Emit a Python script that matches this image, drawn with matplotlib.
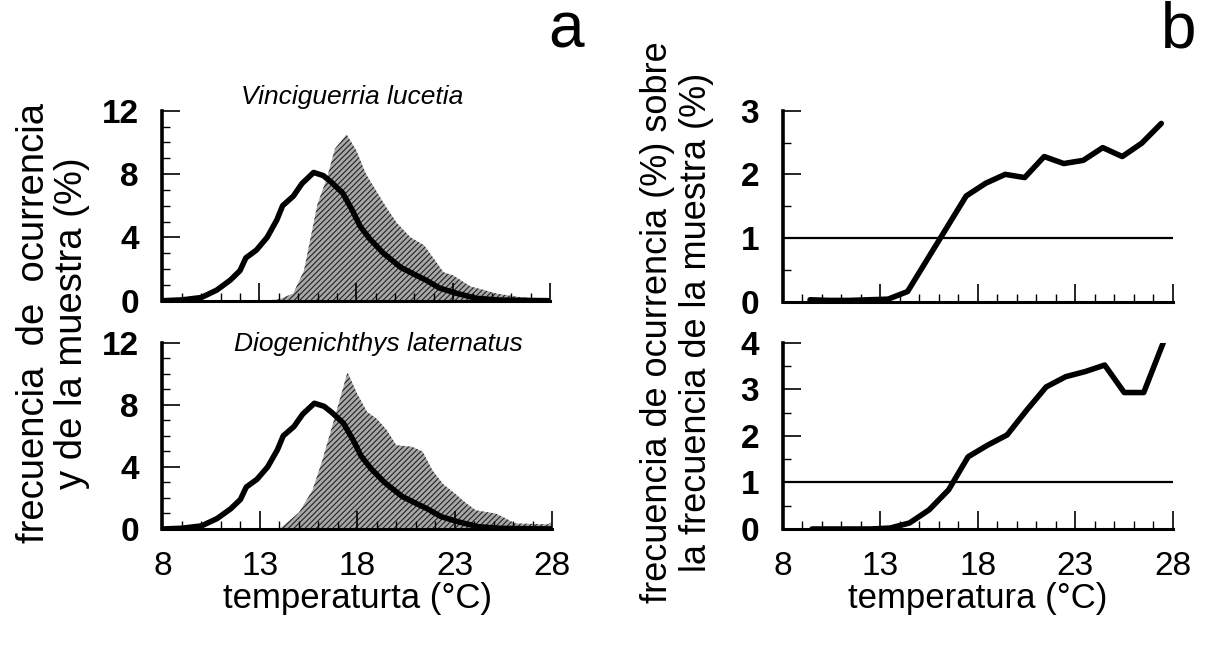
import matplotlib
matplotlib.use("Agg")
import matplotlib.pyplot as plt
from matplotlib.ticker import MultipleLocator

plt.rcParams['font.family'] = ['Liberation Sans', 'DejaVu Sans']
plt.rcParams['hatch.linewidth'] = 0.8

# ---- data ----
# sample frequency (%) vs temperature (same in both left panels)
samp_t = [8.0, 9.0, 10.0, 10.8, 11.5, 12.0, 12.3, 12.85, 13.4, 13.9, 14.2, 14.75, 15.2, 15.8,
          16.3, 16.7, 17.3, 17.8, 18.2, 18.7, 19.4, 20.3, 21.1, 21.6, 22.3, 23.2, 24.2, 25.4, 28.0]
samp_v = [0.0, 0.05, 0.2, 0.67, 1.3, 1.9, 2.7, 3.2, 4.0, 5.1, 6.0, 6.6, 7.4, 8.1,
          7.9, 7.5, 6.8, 5.7, 4.7, 3.9, 3.0, 2.1, 1.6, 1.3, 0.8, 0.46, 0.15, 0.04, 0.0]

# occurrence frequency (%) - Vinciguerria lucetia
vl_t = [13.3, 14.05, 14.75, 15.3, 16.0, 16.5, 16.9, 17.5, 18.0, 18.5, 19.55, 20.1, 20.8,
        21.5, 21.8, 22.5, 23.0, 23.9, 24.6, 25.2, 26.3, 28.0]
vl_v = [0.0, 0.1, 0.46, 1.9, 6.1, 7.8, 9.6, 10.5, 9.5, 8.0, 5.9, 4.9, 4.0,
        3.5, 3.0, 1.8, 1.6, 0.9, 0.67, 0.46, 0.25, 0.04]

# occurrence frequency (%) - Diogenichthys laternatus
dl_t = [14.0, 15.0, 15.7, 16.2, 16.8, 17.5, 18.0, 18.5, 19.0, 19.5, 20.0, 20.8, 21.35,
        21.85, 22.4, 23.0, 23.6, 24.1, 25.1, 25.6, 26.1, 27.8, 28.0]
dl_v = [0.0, 1.05, 2.5, 4.4, 7.0, 10.1, 8.7, 7.55, 7.1, 6.4, 5.4, 5.3, 5.0,
        3.8, 2.9, 2.3, 1.65, 1.2, 1.0, 0.7, 0.36, 0.3, 0.45]

# ratio occurrence / sample
vl_rt = [9.4, 10.4, 11.4, 12.4, 13.4, 14.4, 15.4, 16.4, 17.4, 18.4, 19.4, 20.4, 21.4,
         22.4, 23.4, 24.4, 25.4, 26.4, 27.4]
vl_rv = [0.03, 0.02, 0.02, 0.03, 0.04, 0.16, 0.66, 1.16, 1.66, 1.86, 2.0, 1.95, 2.28,
         2.17, 2.22, 2.42, 2.28, 2.49, 2.8]

dl_rt = [9.5, 10.5, 11.5, 12.5, 13.5, 14.5, 15.5, 16.5, 17.5, 18.5, 19.5, 20.5, 21.5,
         22.5, 23.5, 24.5, 25.5, 26.5, 27.5]
dl_rv = [0.0, 0.0, 0.0, 0.0, 0.02, 0.13, 0.41, 0.84, 1.55, 1.8, 2.02, 2.55, 3.05,
         3.27, 3.38, 3.52, 2.93, 2.93, 4.0]

xticks = [8, 13, 18, 23, 28]

fig = plt.figure(figsize=(12.14, 6.47), dpi=100)
W, H = 1214, 647

def mkax(x0, x1, ytop, ybot):
    return fig.add_axes([x0 / W, 1 - ybot / H, (x1 - x0) / W, (ybot - ytop) / H])

axA1 = mkax(162.5, 550, 110.7, 300.7)
axA2 = mkax(162.5, 552, 342.7, 529)
axB1 = mkax(782.7, 1173, 110.7, 301.7)
axB2 = mkax(782.7, 1173, 342.7, 529)

def style(ax, ymax, ymaj, ymin, show_x):
    ax.set_xlim(8, 28)
    ax.set_ylim(0, ymax)
    for s in ['top', 'right']:
        ax.spines[s].set_visible(False)
    ax.spines['left'].set_linewidth(2.6)
    ax.spines['bottom'].set_linewidth(2.2)
    ax.set_xticks(xticks)
    ax.xaxis.set_minor_locator(MultipleLocator(1))
    ax.yaxis.set_major_locator(MultipleLocator(ymaj))
    ax.yaxis.set_minor_locator(MultipleLocator(ymin))
    ax.tick_params(which='major', direction='in', length=13, width=1.2)
    ax.tick_params(which='minor', direction='in', length=6, width=1.0)
    ax.tick_params(axis='y', which='major', length=13, pad=17, labelsize=24)
    ax.tick_params(axis='x', which='major', pad=16, labelsize=24)
    for lab in ax.get_yticklabels():
        lab.set_fontweight('bold')
    if not show_x:
        ax.tick_params(axis='x', labelbottom=False)
    else:
        ax.set_xticklabels([str(v) for v in xticks])

# left panels
for ax, ot, ov, title, ty in [(axA1, vl_t, vl_v, 'Vinciguerria lucetia', 97),
                              (axA2, dl_t, dl_v, 'Diogenichthys laternatus', 344)]:
    ax.fill_between(ot, ov, 0, facecolor='#a8a8a8', edgecolor='#222222',
                    hatch='//////', linewidth=0, zorder=1)
    ax.plot(samp_t, samp_v, color='black', lw=4, solid_capstyle='round',
            solid_joinstyle='round', zorder=3)
    style(ax, 12, 4, 1, ax is axA2)
    cx = 352 if ax is axA1 else 378
    fig.text(cx / W, 1 - ty / H, title, ha='center', va='center',
             fontsize=19, style='italic')

# right panels
for ax, rt, rv, ymax in [(axB1, vl_rt, vl_rv, 3), (axB2, dl_rt, dl_rv, 4)]:
    ax.axhline(1, color='black', lw=1.6, zorder=2)
    ax.plot(rt, rv, color='black', lw=4, solid_capstyle='round',
            solid_joinstyle='round', zorder=3)
    style(ax, ymax, 1, 0.5, ax is axB2)

axA2.set_xlabel('temperaturta (°C)', fontsize=25, labelpad=0)
axB2.set_xlabel('temperatura (°C)', fontsize=25, labelpad=0)

fig.text(53 / W, 1 - 323 / H, 'frecuencia  de  ocurrencia\ny de la muestra (%)',
         rotation=90, ha='center', va='center', fontsize=27.5, multialignment='center',
         linespacing=1.1)
fig.text(677 / W, 1 - 322 / H,
         'frecuencia de ocurrencia (%) sobre\nla frecuencia de la muestra (%)',
         rotation=90, ha='center', va='center', fontsize=26, multialignment='center',
         linespacing=1.12)

fig.text(566 / W, 1 - 30 / H, 'a', ha='center', va='center', fontsize=46)
fig.text(1179 / W, 1 - 30 / H, 'b', ha='center', va='center', fontsize=46)

fig.savefig('out.png', dpi=100)
